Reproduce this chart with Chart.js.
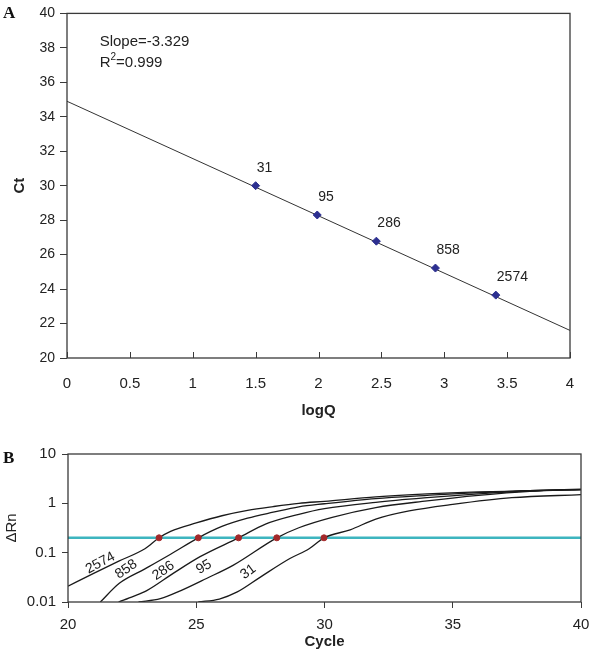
<!DOCTYPE html>
<html>
<head>
<meta charset="utf-8">
<script src="https://cdn.jsdelivr.net/npm/chart.js@4"></script>
<style>
  html, body { margin: 0; padding: 0; background: #fff; }
  #wrap { position: relative; width: 590px; height: 651px; }
  #chartA { position: absolute; left: 0; top: 0; }
  #chartB { position: absolute; left: 0; top: 430px; }
  .tag { position: absolute; font: bold 17px "Liberation Serif", "Times New Roman", serif; line-height: 16px; color: #111; }
</style>
</head>
<body>
<div id="wrap">
  <canvas id="chartA" width="590" height="430"></canvas>
  <canvas id="chartB" width="590" height="221"></canvas>
  <div class="tag" style="left:3px;top:5px">A</div>
  <div class="tag" style="left:3px;top:450px">B</div>
</div>
<script>
// ---- panel A: standard curve ----
const copies = ['31', '95', '286', '858', '2574'];
const logQ = [1.50, 1.99, 2.46, 2.93, 3.41];
const ctA = [30.0, 28.3, 26.78, 25.22, 23.65];
const fitX = [0, 4];
const fitY = [34.9, 21.6];
const xTickLabelsA = ['0', '0.5', '1', '1.5', '2', '2.5', '3', '3.5', '4'];
const slopeText = 'Slope=-3.329';
const r2Text = '=0.999';

// ---- panel B: amplification plots (cycle, delta Rn) ----
const cyc2574 = [20, 21, 22, 23, 23.55, 24, 25, 26, 27, 28, 29, 30, 32, 34, 36, 38, 40];
const rn2574 = [0.021, 0.038, 0.068, 0.12, 0.2, 0.27, 0.40, 0.56, 0.72, 0.86, 1.0, 1.1, 1.35, 1.55, 1.7, 1.8, 1.95];
const cyc858 = [21.26, 22, 23, 24, 25.08, 26, 27, 28, 29, 30, 32, 34, 36, 38, 40];
const rn858 = [0.01, 0.024, 0.047, 0.093, 0.2, 0.34, 0.5, 0.66, 0.85, 0.98, 1.25, 1.45, 1.65, 1.8, 1.9];
const cyc286 = [21.97, 22.55, 23.07, 24.1, 25.15, 26.65, 27.7, 29, 30, 32, 34, 36, 38, 40];
const rn286 = [0.01, 0.013, 0.017, 0.038, 0.083, 0.2, 0.38, 0.6, 0.78, 1.05, 1.3, 1.55, 1.8, 1.9];
const cyc95 = [22.75, 23.6, 24.4, 25.4, 26.45, 28.14, 29, 30.3, 32, 34, 36, 38, 40];
const rn95 = [0.01, 0.0117, 0.017, 0.03, 0.056, 0.2, 0.32, 0.52, 0.82, 1.12, 1.45, 1.75, 1.9];
const cyc31 = [25.08, 25.9, 26.6, 27.5, 28.65, 29.4, 29.98, 31, 32, 33.3, 35, 37.3, 40];
const rn31 = [0.01, 0.0115, 0.016, 0.032, 0.076, 0.12, 0.2, 0.29, 0.48, 0.7, 0.95, 1.3, 1.5];
const threshold = 0.2;
const ctB = [23.55, 25.08, 26.65, 28.14, 29.98];
const yTicksB = [0.01, 0.1, 1, 10];
const yTickLabelsB = ['0.01', '0.1', '1', '10'];
// curve label anchors (cycle, delta Rn, angle in degrees)
const curveLabelX = [21.26, 22.27, 23.72, 25.3, 27.03];
const curveLabelY = [0.062, 0.046, 0.043, 0.051, 0.041];
const curveLabelAngle = [-28, -34, -34, -30, -36];

Chart.defaults.font.family = "'Liberation Sans', Arial, sans-serif";
Chart.defaults.font.size = 14;
Chart.defaults.color = '#222';

const toXY = (xs, ys) => xs.map((x, i) => ({ x: x, y: ys[i] }));

function drawFrame(chart) {
  const a = chart.chartArea;
  const ctx = chart.ctx;
  ctx.save();
  ctx.strokeStyle = '#3a3a3a';
  ctx.lineWidth = 1.3;
  ctx.strokeRect(a.left, a.top, a.right - a.left, a.bottom - a.top);
  ctx.restore();
}

const panelA = {
  id: 'panelA',
  afterDraw(chart) {
    const ctx = chart.ctx;
    const xs = chart.scales.x, ys = chart.scales.y;
    drawFrame(chart);
    // inner tick marks on the x axis
    ctx.save();
    ctx.strokeStyle = '#3a3a3a';
    ctx.lineWidth = 1;
    xs.ticks.forEach(t => {
      const px = Math.round(xs.getPixelForValue(t.value)) + 0.5;
      ctx.beginPath();
      ctx.moveTo(px, chart.chartArea.bottom);
      ctx.lineTo(px, chart.chartArea.bottom - 6);
      ctx.stroke();
    });
    // copy-number labels above the points
    ctx.fillStyle = '#222';
    ctx.font = "14px 'Liberation Sans', Arial, sans-serif";
    ctx.textAlign = 'left';
    ctx.textBaseline = 'middle';
    chart.getDatasetMeta(1).data.forEach((pt, i) => {
      ctx.fillText(copies[i], pt.x + 1, pt.y - 18);
    });
    // slope and R squared
    ctx.font = "15px 'Liberation Sans', Arial, sans-serif";
    const tx = xs.getPixelForValue(0.26);
    ctx.fillText(slopeText, tx, ys.getPixelForValue(38.33));
    const ry = ys.getPixelForValue(37.12);
    ctx.fillText('R', tx, ry);
    const rw = ctx.measureText('R').width;
    ctx.font = "10px 'Liberation Sans', Arial, sans-serif";
    ctx.fillText('2', tx + rw, ry - 6);
    const sw = ctx.measureText('2').width;
    ctx.font = "15px 'Liberation Sans', Arial, sans-serif";
    ctx.fillText(r2Text, tx + rw + sw, ry);
    ctx.restore();
  }
};

new Chart(document.getElementById('chartA'), {
  type: 'scatter',
  data: {
    datasets: [
      {
        type: 'line',
        data: toXY(fitX, fitY),
        borderColor: '#333',
        borderWidth: 1,
        pointRadius: 0,
        fill: false,
        order: 2
      },
      {
        data: toXY(logQ, ctA),
        pointStyle: 'rectRot',
        pointRadius: 4,
        backgroundColor: '#2c2f90',
        borderColor: '#2c2f90',
        order: 1
      }
    ]
  },
  options: {
    responsive: false,
    animation: false,
    layout: { padding: { left: 0, right: 20, top: 11, bottom: 0 } },
    plugins: { legend: { display: false }, tooltip: { enabled: false } },
    scales: {
      x: {
        type: 'linear', min: 0, max: 4,
        ticks: { stepSize: 0.5, padding: 17, font: { size: 15 }, callback: (v, i) => xTickLabelsA[i] },
        grid: { drawOnChartArea: false, drawTicks: false },
        border: { display: false },
        title: { display: true, text: 'logQ', font: { size: 15, weight: 'bold' }, padding: { top: 0, bottom: 10 } },
        afterFit(s) { s.height = 72; s.paddingRight = 0; s.paddingLeft = 0; }
      },
      y: {
        min: 20, max: 40,
        ticks: { stepSize: 2, padding: 5 },
        grid: { drawOnChartArea: false, tickLength: 7, color: '#3a3a3a' },
        border: { display: false },
        title: { display: true, text: 'Ct', font: { size: 15, weight: 'bold' }, padding: { top: 11, bottom: 0 } },
        afterFit(s) { s.width = 67; }
      }
    }
  },
  plugins: [panelA]
});

const panelB = {
  id: 'panelB',
  afterDraw(chart) {
    const ctx = chart.ctx;
    const xs = chart.scales.x, ys = chart.scales.y;
    drawFrame(chart);
    ctx.save();
    ctx.fillStyle = '#1a1a1a';
    ctx.font = "14px 'Liberation Sans', Arial, sans-serif";
    ctx.textAlign = 'center';
    ctx.textBaseline = 'middle';
    copies.slice().reverse().forEach((lab, i) => {
      ctx.save();
      ctx.translate(xs.getPixelForValue(curveLabelX[i]), ys.getPixelForValue(curveLabelY[i]));
      ctx.rotate(curveLabelAngle[i] * Math.PI / 180);
      ctx.fillText(lab, 0, 0);
      ctx.restore();
    });
    ctx.restore();
  }
};

const curveStyle = {
  borderColor: '#1a1a1a',
  borderWidth: 1.3,
  pointRadius: 0,
  fill: false,
  cubicInterpolationMode: 'monotone',
  order: 2
};

new Chart(document.getElementById('chartB'), {
  type: 'line',
  data: {
    datasets: [
      Object.assign({ data: toXY(cyc2574, rn2574) }, curveStyle),
      Object.assign({ data: toXY(cyc858, rn858) }, curveStyle),
      Object.assign({ data: toXY(cyc286, rn286) }, curveStyle),
      Object.assign({ data: toXY(cyc95, rn95) }, curveStyle),
      Object.assign({ data: toXY(cyc31, rn31) }, curveStyle),
      {
        data: [{ x: 20, y: threshold }, { x: 40, y: threshold }],
        borderColor: '#3db5bf',
        borderWidth: 2.5,
        pointRadius: 0,
        fill: false,
        order: 3
      },
      {
        type: 'scatter',
        data: ctB.map(c => ({ x: c, y: threshold })),
        pointRadius: 3,
        backgroundColor: '#a3282a',
        borderColor: '#a3282a',
        showLine: false,
        order: 1
      }
    ]
  },
  options: {
    responsive: false,
    animation: false,
    layout: { padding: { left: 0, right: 9, top: 24, bottom: 0 } },
    plugins: { legend: { display: false }, tooltip: { enabled: false } },
    scales: {
      x: {
        type: 'linear', min: 20, max: 40,
        ticks: { stepSize: 5, padding: 8, font: { size: 15 } },
        grid: { drawOnChartArea: false, tickLength: 6, color: '#3a3a3a' },
        border: { display: false },
        title: { display: true, text: 'Cycle', font: { size: 15, weight: 'bold' }, padding: { top: 0, bottom: 0 } },
        afterFit(s) { s.height = 49; s.paddingRight = 0; s.paddingLeft = 0; }
      },
      y: {
        type: 'logarithmic', min: 0.01, max: 10,
        afterBuildTicks(s) { s.ticks = yTicksB.map(v => ({ value: v, major: true })); },
        ticks: { padding: 6, font: { size: 15 }, callback: (v, i) => yTickLabelsB[i] },
        grid: { drawOnChartArea: false, tickLength: 6, color: '#3a3a3a' },
        border: { display: false },
        title: { display: true, text: 'ΔRn', font: { size: 15 }, padding: { top: 3, bottom: 0 } },
        afterFit(s) { s.width = 68; }
      }
    }
  },
  plugins: [panelB]
});
</script>
</body>
</html>
